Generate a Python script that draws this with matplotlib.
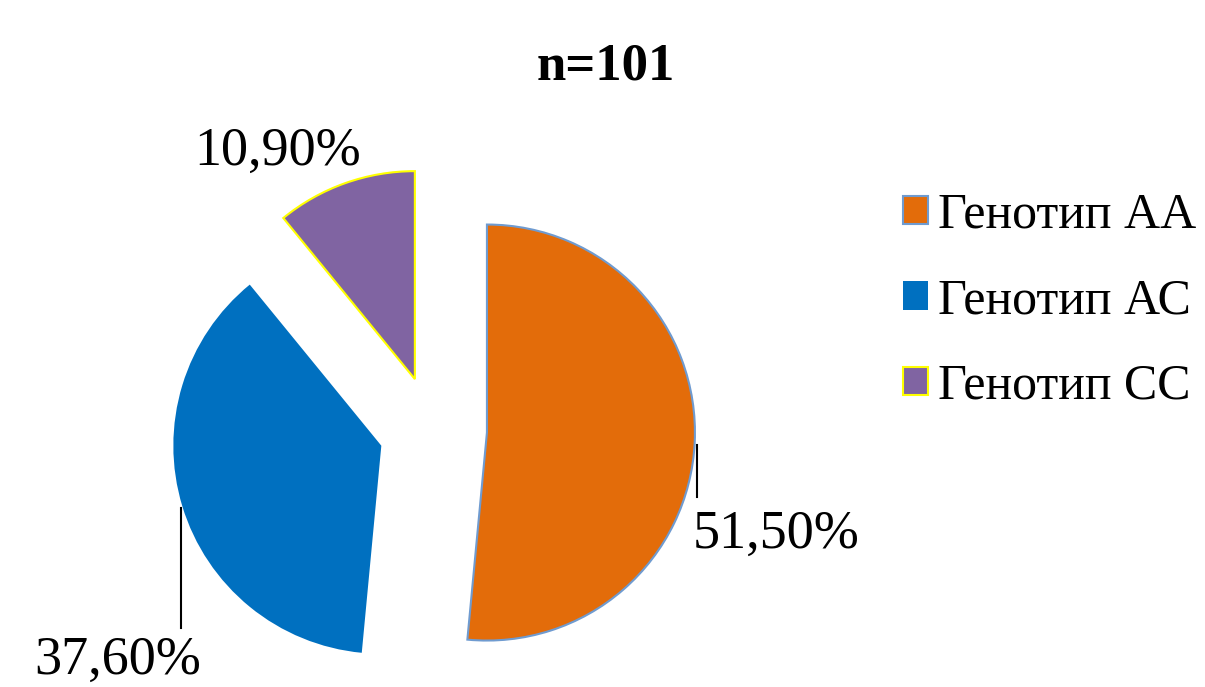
import matplotlib
matplotlib.use("Agg")
import matplotlib.pyplot as plt

labels = ["Генотип АА", "Генотип АС", "Генотип СС"]
values = [51.5, 37.6, 10.9]
value_texts = ["51,50%", "37,60%", "10,90%"]
title = "n=101"

colors = ["#E36C0A", "#0070C0", "#8064A2"]
edges = ["#6F9BD0", "#0070C0", "#FFFF00"]

plt.rcParams['font.family'] = ['Liberation Serif', 'DejaVu Serif']

W, H = 1205, 687
fig = plt.figure(figsize=(W / 100, H / 100), dpi=100)
ax = fig.add_axes([0, 0, 1, 1])
ax.set_xlim(0, W)
ax.set_ylim(0, H)
ax.set_aspect('equal')
ax.axis('off')

R = 208
wedges, _ = ax.pie(values, colors=colors, startangle=90, counterclock=False,
                   center=(433, 257), radius=R, explode=[54, 54, 54],
                   frame=True)
for w, ec in zip(wedges, edges):
    w.set_edgecolor(ec)
    w.set_linewidth(1.5 if ec != "#0070C0" else 0)
ax.set_xlim(0, W)
ax.set_ylim(0, H)
ax.axis('off')

# leader lines and value labels
ax.plot([697, 697], [242, 190], color='black', lw=1.5)
ax.plot([181, 181], [179, 59], color='black', lw=1.5)
fs_val = 39
ax.text(776, 152, value_texts[0], ha='center', va='center', fontsize=fs_val)
ax.text(118, 26, value_texts[1], ha='center', va='center', fontsize=fs_val)
ax.text(278, 535, value_texts[2], ha='center', va='center', fontsize=fs_val)

fig.text(606 / W, 1 - 66 / H, title, ha='center', va='center',
         fontsize=38, fontweight='bold')

leg = ax.legend(wedges, labels, loc='upper left', bbox_to_anchor=(903 / W, 1 - 192 / H),
                bbox_transform=fig.transFigure, frameon=False, fontsize=36,
                handlelength=0.5, handleheight=0.5, handletextpad=0.2,
                labelspacing=0.78, borderpad=0, borderaxespad=0)

fig.savefig("out.png", dpi=100)
